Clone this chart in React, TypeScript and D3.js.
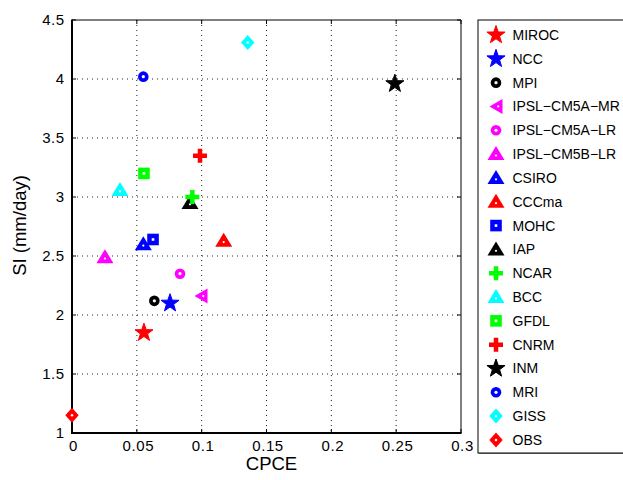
import React from "react";
import * as d3 from "d3";

const models = ["MIROC","NCC","MPI","IPSL\u2212CM5A\u2212MR","IPSL\u2212CM5A\u2212LR","IPSL\u2212CM5B\u2212LR","CSIRO","CCCma","MOHC","IAP","NCAR","BCC","GFDL","CNRM","INM","MRI","GISS","OBS"];
const cpce = [0.0555,0.0756,0.0635,0.0995,0.0833,0.0254,0.055,0.117,0.0625,0.091,0.0928,0.037,0.0555,0.0987,0.249,0.055,0.1355,0];
const si = [1.85,2.10,2.12,2.16,2.35,2.49,2.60,2.63,2.64,2.95,3.00,3.06,3.20,3.35,3.96,4.02,4.31,1.15];
const colors = ["#ff0000","#0000ff","#000000","#ff00ff","#ff00ff","#ff00ff","#0000ff","#ff0000","#0000ff","#000000","#00ff00","#00ffff","#00ff00","#ff0000","#000000","#0000ff","#00ffff","#ff0000"];
const markers = ["star","star","circle","triLeft","circle","triUp","triUp","triUp","square","triUp","plus","triUp","square","plus","star","circle","diamond","diamond"];
const xTicks = [0,0.05,0.1,0.15,0.2,0.25,0.3];
const yTicks = [1,1.5,2,2.5,3,3.5,4,4.5];

function starPath(R: number) {
  const r = R * 0.4;
  const pts: string[] = [];
  for (let i = 0; i < 10; i++) {
    const a = -Math.PI / 2 + (i * Math.PI) / 5;
    const rad = i % 2 === 0 ? R : r;
    pts.push(`${(rad * Math.cos(a)).toFixed(2)},${(rad * Math.sin(a)).toFixed(2)}`);
  }
  return "M" + pts.join("L") + "Z";
}

function Marker({ type, color, cx, cy }: { type: string; color: string; cx: number; cy: number }) {
  const t = `translate(${cx},${cy})`;
  switch (type) {
    case "star":
      return <path transform={t} d={starPath(9.5)} fill={color} stroke={color} strokeWidth={1} />;
    case "circle":
      return (
        <g transform={t}>
          <circle r={5.3} fill={color} />
          <circle r={1.6} fill="#fff" />
        </g>
      );
    case "triLeft":
      return (
        <g transform={t}>
          <path d="M-6.5,0L6.5,-7.5L6.5,7.5Z" fill={color} />
          <circle cx={2.2} cy={0} r={1.1} fill="#fff" />
        </g>
      );
    case "triUp":
      return (
        <g transform={t}>
          <path d="M0,-8L8.5,6L-8.5,6Z" fill={color} />
          <circle cx={0} cy={1.4} r={1.1} fill="#fff" />
        </g>
      );
    case "square":
      return (
        <g transform={t}>
          <rect x={-5.8} y={-5.8} width={11.6} height={11.6} fill={color} />
          <rect x={-1.3} y={-1.3} width={2.6} height={2.6} fill="#fff" />
        </g>
      );
    case "plus":
      return <path transform={t} d="M-7,0H7M0,-7V7" fill="none" stroke={color} strokeWidth={4.5} />;
    case "diamond":
      return (
        <g transform={t}>
          <path d="M0,-7.5L6.7,0L0,7.5L-6.7,0Z" fill={color} />
          <circle r={1.2} fill="#fff" />
        </g>
      );
  }
  return null;
}

export default function App() {
  const W = 623, H = 480;
  const x = d3.scaleLinear().domain([0, 0.3]).range([72, 461]);
  const y = d3.scaleLinear().domain([1, 4.5]).range([433, 20]);
  const [x0, x1] = x.range();
  const [y0, y1] = y.range();
  const font = "Liberation Sans, Arial, Helvetica, sans-serif";
  const legX = 478, legY = 20, legW = 150, legH = 433;
  const rowY = (i: number) => 35 + i * 23.82;
  return (
    <svg width={W} height={H} style={{ position: "absolute", left: 0, top: 0 }} fontFamily={font}>
      <rect width={W} height={H} fill="#fff" />
      {/* grid */}
      {xTicks.slice(1, -1).map((t) => (
        <line key={"gx" + t} x1={x(t)} x2={x(t)} y1={y1} y2={y0} stroke="#222" strokeWidth={1} strokeDasharray="1,4" />
      ))}
      {yTicks.slice(1, -1).map((t) => (
        <line key={"gy" + t} x1={x0} x2={x1} y1={y(t)} y2={y(t)} stroke="#222" strokeWidth={1} strokeDasharray="1,4" />
      ))}
      {/* ticks inward */}
      {xTicks.map((t) => (
        <g key={"tx" + t}>
          <line x1={x(t)} x2={x(t)} y1={y0} y2={y0 - 4} stroke="#000" />
          <line x1={x(t)} x2={x(t)} y1={y1} y2={y1 + 4} stroke="#000" />
          <text x={x(t) + 1.5} y={450.5} fontSize={15} letterSpacing={0.6} textAnchor="middle" fill="#000">{d3.format("~g")(t)}</text>
        </g>
      ))}
      {yTicks.map((t) => (
        <g key={"ty" + t}>
          <line x1={x0} x2={x0 + 4} y1={y(t)} y2={y(t)} stroke="#000" />
          <line x1={x1} x2={x1 - 4} y1={y(t)} y2={y(t)} stroke="#000" />
          <text x={64.8} y={y(t) + 5} fontSize={15} letterSpacing={0.6} textAnchor="end" fill="#000">{d3.format("~g")(t)}</text>
        </g>
      ))}
      {/* box */}
      <line x1={x0} x2={x1} y1={y1} y2={y1} stroke="#000" strokeWidth={1} />
      <line x1={x1} x2={x1} y1={y1} y2={y0} stroke="#000" strokeWidth={1} />
      <line x1={x0} x2={x1 + 0.5} y1={y0} y2={y0} stroke="#000" strokeWidth={2} />
      <line x1={x0} x2={x0} y1={y1 - 0.5} y2={y0 + 1} stroke="#000" strokeWidth={2} />
      {/* points */}
      {models.map((m, i) => (
        <Marker key={m} type={markers[i]} color={colors[i]} cx={x(cpce[i])} cy={y(si[i])} />
      ))}
      {/* axis titles */}
      <text x={(x0 + x1) / 2 + 5} y={470} fontSize={18.5} textAnchor="middle" fill="#000">CPCE</text>
      <text transform={`translate(26,225.5) rotate(-90)`} fontSize={18.5} textAnchor="middle" fill="#000">SI (mm/day)</text>
      {/* legend */}
      <rect x={legX + 1} y={legY + 1} width={legW} height={legH} fill="#888" />
      <rect x={legX} y={legY} width={legW} height={legH} fill="#fff" stroke="#000" strokeWidth={1} />
      {models.map((m, i) => (
        <g key={"l" + m}>
          <Marker type={markers[i]} color={colors[i]} cx={496} cy={rowY(i)} />
          <text x={512.5} y={rowY(i) + 5} fontSize={14} fill="#000">{m}</text>
        </g>
      ))}
    </svg>
  );
}
